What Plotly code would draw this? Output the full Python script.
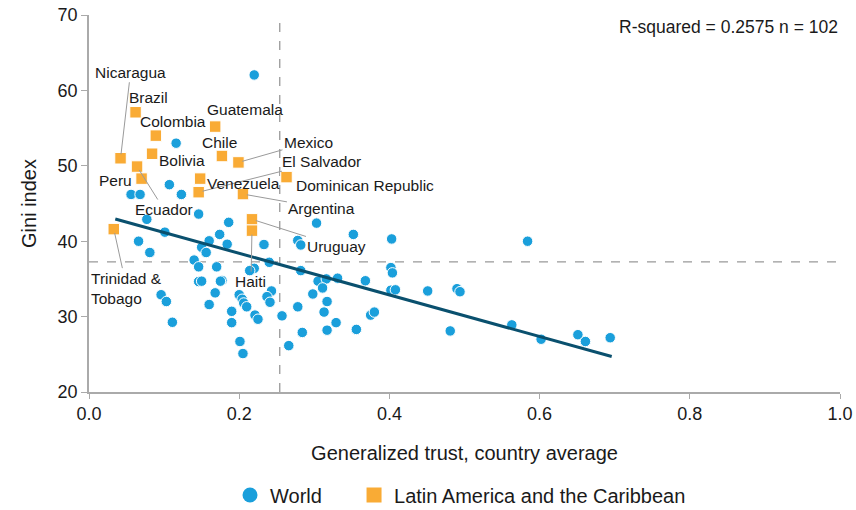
import plotly.graph_objects as go

# ---------------- data ----------------
world_trust = [0.220, 0.116, 0.107, 0.056, 0.068, 0.123, 0.146, 0.077, 0.186, 0.101,
               0.174, 0.160, 0.066, 0.184, 0.233, 0.150, 0.156, 0.081, 0.140, 0.240,
               0.146, 0.170, 0.220, 0.214, 0.146, 0.150, 0.177, 0.175, 0.243, 0.168,
               0.096, 0.103, 0.200, 0.204, 0.206, 0.210, 0.237, 0.241, 0.160, 0.190,
               0.221, 0.225, 0.190, 0.111, 0.257, 0.201, 0.205, 0.266, 0.303, 0.352,
               0.403, 0.278, 0.282, 0.282, 0.402, 0.404, 0.305, 0.316, 0.331, 0.368,
               0.311, 0.298, 0.402, 0.408, 0.451, 0.317, 0.278, 0.313, 0.375, 0.380,
               0.329, 0.284, 0.317, 0.356, 0.481, 0.584, 0.490, 0.494, 0.563, 0.602,
               0.651, 0.661, 0.694]
world_gini = [62.05, 53.0, 47.5, 46.2, 46.2, 46.2, 43.6, 42.9, 42.5, 41.2,
              40.9, 40.05, 40.0, 39.6, 39.56, 39.2, 38.5, 38.5, 37.5, 37.2,
              36.6, 36.6, 36.4, 36.1, 34.65, 34.7, 34.8, 34.7, 33.4, 33.15,
              32.9, 32.0, 32.9, 32.3, 31.8, 31.3, 32.65, 31.9, 31.6, 30.7,
              30.2, 29.65, 29.2, 29.25, 30.1, 26.7, 25.1, 26.15, 42.4, 40.9,
              40.3, 40.1, 39.5, 36.1, 36.5, 35.8, 34.7, 35.0, 35.1, 34.75,
              33.8, 33.0, 33.5, 33.55, 33.4, 32.0, 31.3, 30.6, 30.2, 30.6,
              29.2, 27.9, 28.2, 28.3, 28.1, 40.0, 33.7, 33.3, 28.9, 27.0,
              27.6, 26.7, 27.2]

lac_names = ["Nicaragua", "Brazil", "Colombia", "Guatemala", "Chile", "Bolivia",
             "Mexico", "El Salvador", "Peru", "Venezuela", "Dominican Republic",
             "Ecuador", "Argentina", "Uruguay", "Haiti", "Trinidad &<br>Tobago"]
lac_trust = [0.042, 0.062, 0.089, 0.168, 0.177, 0.084, 0.199, 0.146, 0.070, 0.148,
             0.263, 0.064, 0.205, 0.217, 0.217, 0.033]
lac_gini = [51.0, 57.1, 54.0, 55.2, 51.3, 51.6, 50.45, 46.5, 48.3, 48.3,
            48.5, 49.9, 46.25, 42.9, 41.4, 41.6]
# label offsets (px) and whether a leader line is drawn
lac_label_dx = [10, 13, 17, 30, -2, 30, 70, 123, -26, 43, 78, 27, 79, 85, -1, 13]
lac_label_dy = [-86, -15, -14, -17, -14, 7, -20, -31, 2, 5, 8, 43, 14, 27, 51, 59]
lac_leader = [True, False, False, False, False, False, True, True, False, False,
              False, True, True, True, True, True]

trend_trust = [0.035, 0.696]
trend_gini = [42.95, 24.7]
mean_trust = 0.254
mean_gini = 37.26

x_ticks = [0.0, 0.2, 0.4, 0.6, 0.8, 1.0]
x_tick_labels = ["0.0", "0.2", "0.4", "0.6", "0.8", "1.0"]
y_ticks = [20, 30, 40, 50, 60, 70]

FONT = "Liberation Sans, Arial, sans-serif"
BLUE = "#1a9fdb"
ORANGE = "#f9ab35"
TEAL = "#0a506e"

fig = go.Figure()

fig.add_trace(go.Scatter(
    x=world_trust, y=world_gini, mode="markers", name="World", showlegend=False,
    marker=dict(color=BLUE, size=10.5, symbol="circle",
                line=dict(color="white", width=1)),
))
fig.add_trace(go.Scatter(
    x=lac_trust, y=lac_gini, mode="markers", showlegend=False,
    name="Latin America and the Caribbean",
    marker=dict(color=ORANGE, size=11.5, symbol="square",
                line=dict(color="white", width=1)),
))
fig.add_trace(go.Scatter(
    x=trend_trust, y=trend_gini, mode="lines", showlegend=False,
    line=dict(color=TEAL, width=3), hoverinfo="skip",
))
# legend entries (larger symbols, as in the reference legend)
fig.add_trace(go.Scatter(
    x=[None], y=[None], mode="markers", name="World", legend="legend",
    marker=dict(color=BLUE, size=15, symbol="circle"),
))
fig.add_trace(go.Scatter(
    x=[None], y=[None], mode="markers", name="Latin America and the Caribbean",
    legend="legend2", marker=dict(color=ORANGE, size=15, symbol="square"),
))

# reference dashed lines
fig.add_shape(type="line", xref="x", yref="paper", x0=mean_trust, x1=mean_trust,
              y0=0, y1=1, line=dict(color="#999999", width=1.3, dash="dash"),
              layer="below")
fig.add_shape(type="line", xref="paper", yref="y", x0=0, x1=1,
              y0=mean_gini, y1=mean_gini,
              line=dict(color="#999999", width=1.3, dash="dash"), layer="below")

for name, xv, yv, dx, dy, lead in zip(lac_names, lac_trust, lac_gini,
                                      lac_label_dx, lac_label_dy, lac_leader):
    fig.add_annotation(
        x=xv, y=yv, text=name, showarrow=True, ax=dx, ay=dy,
        arrowhead=0, arrowwidth=1, standoff=4,
        arrowcolor="#9a9a9a" if lead else "rgba(0,0,0,0)",
        align="left",
        font=dict(family=FONT, size=15.5, color="#1a1a1a"),
    )

fig.add_annotation(
    xref="paper", yref="paper", x=1, y=0.969, xanchor="right", yanchor="middle",
    text="R-squared = 0.2575 n = 102", showarrow=False,
    font=dict(family=FONT, size=17.5, color="#1a1a1a"),
)

legend_common = dict(orientation="h", xref="container", yref="container",
                     xanchor="left", yanchor="middle", y=0.0294,
                     font=dict(family=FONT, size=20), itemwidth=30,
                     bgcolor="rgba(0,0,0,0)")

fig.update_layout(
    width=856, height=510,
    margin=dict(l=89, r=16, t=15, b=118, autoexpand=False),
    paper_bgcolor="white", plot_bgcolor="white",
    font=dict(family=FONT, color="#1a1a1a"),
    showlegend=True,
    legend=dict(x=0.2687, **legend_common),
    legend2=dict(x=0.4136, **legend_common),
    xaxis=dict(range=[0, 1], tickvals=x_ticks, ticktext=x_tick_labels,
               automargin=False,
               showgrid=False, zeroline=False, showline=True,
               linecolor="#aaaaaa", linewidth=1.5, ticks="outside",
               ticklen=5, tickcolor="#aaaaaa",
               tickfont=dict(family=FONT, size=18),
               title=dict(text="Generalized trust, country average",
                          font=dict(family=FONT, size=20), standoff=23)),
    yaxis=dict(range=[20, 70], tickvals=y_ticks, automargin=False,
               showgrid=False, zeroline=False, showline=True,
               linecolor="#aaaaaa", linewidth=1.5, ticks="outside",
               ticklen=6, tickcolor="#aaaaaa",
               tickfont=dict(family=FONT, size=18),
               title=dict(text="Gini index", font=dict(family=FONT, size=20),
                          standoff=16)),
)

fig.write_html("out.html", config={"displayModeBar": False},
               post_script="document.body.style.margin='0';")
